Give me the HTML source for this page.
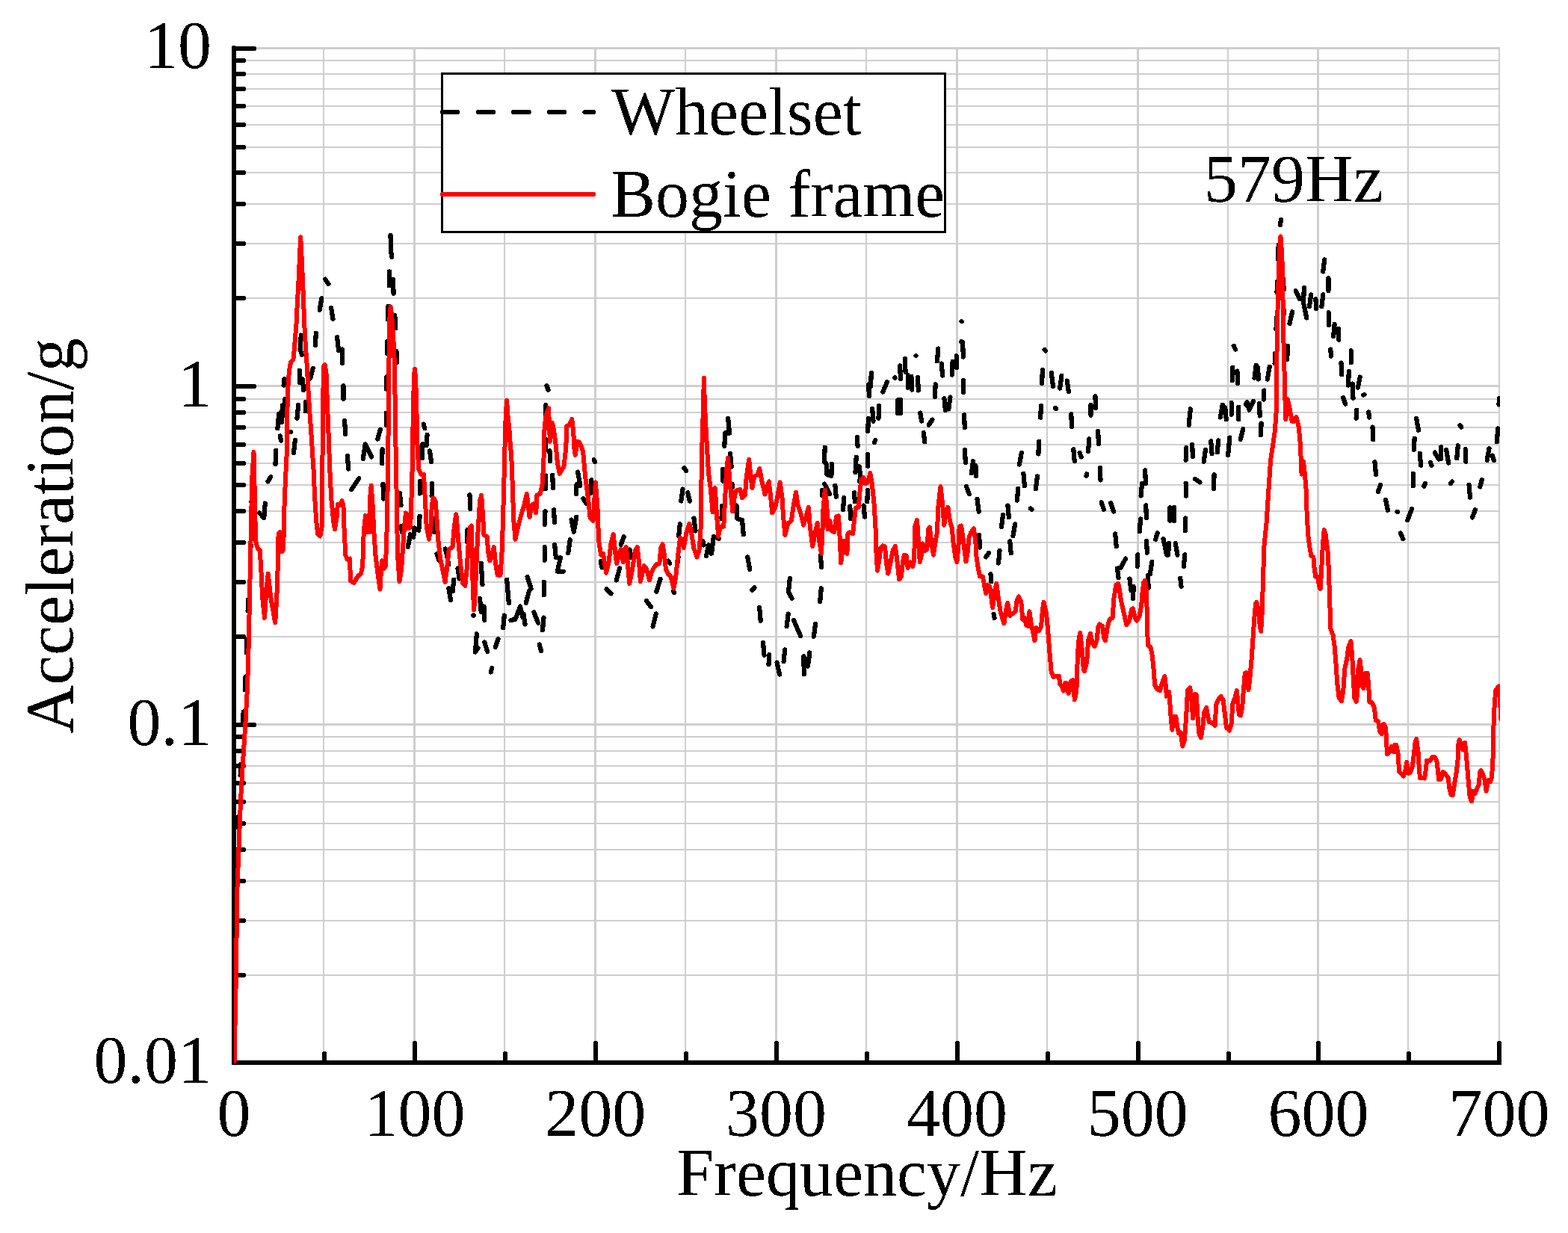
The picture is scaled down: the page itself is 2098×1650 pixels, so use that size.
<!DOCTYPE html>
<html lang="en"><head><meta charset="utf-8"><title>Acceleration spectrum</title>
<style>html,body{margin:0;padding:0;background:#fff}svg{display:block}</style></head>
<body>
<svg width="2098" height="1650" viewBox="0 0 2098 1650" font-family="'Liberation Serif', 'Times New Roman', serif" font-size="90">
<defs><filter id="t" x="-5%" y="-5%" width="110%" height="110%" color-interpolation-filters="sRGB"><feComponentTransfer><feFuncA type="discrete" tableValues="0 1"/></feComponentTransfer></filter>
<clipPath id="c"><rect x="313" y="59" width="1694" height="1364"/></clipPath></defs>
<rect width="2098" height="1650" fill="#fff"/>
<path d="M432 65h2V1422h-2zM553 65h3V1422h-3zM674 65h2V1422h-2zM795 65h3V1422h-3zM916 65h2V1422h-2zM1037 65h3V1422h-3zM1158 65h2V1422h-2zM1279 65h3V1422h-3zM1400 65h2V1422h-2zM1521 65h3V1422h-3zM1642 65h2V1422h-2zM1762 65h3V1422h-3zM1883 65h2V1422h-2zM2005 65h2V1422h-2zM313 515H2007v3H313zM313 398H2007v2H313zM313 325H2007v2H313zM313 272H2007v2H313zM313 230H2007v2H313zM313 196H2007v2H313zM313 166H2007v2H313zM313 141H2007v2H313zM313 118H2007v2H313zM313 98H2007v2H313zM313 80H2007v2H313zM313 968H2007v3H313zM313 851H2007v2H313zM313 778H2007v2H313zM313 725H2007v2H313zM313 683H2007v2H313zM313 648H2007v2H313zM313 619H2007v2H313zM313 594H2007v2H313zM313 571H2007v2H313zM313 551H2007v2H313zM313 533H2007v2H313zM313 1304H2007v2H313zM313 1231H2007v2H313zM313 1178H2007v2H313zM313 1136H2007v2H313zM313 1101H2007v2H313zM313 1072H2007v2H313zM313 1047H2007v2H313zM313 1024H2007v2H313zM313 1004H2007v2H313zM313 985H2007v2H313zM313 63H2007v3H313z" fill="#cecece" shape-rendering="crispEdges"/>
<g stroke="#000" stroke-width="6" fill="none" stroke-linecap="round" shape-rendering="crispEdges">
<path d="M313 517h27M313 399h13M313 326h13M313 273h13M313 231h13M313 197h13M313 167h13M313 142h13M313 119h13M313 99h13M313 81h13M313 970h27M313 852h13M313 779h13M313 726h13M313 684h13M313 649h13M313 620h13M313 595h13M313 572h13M313 552h13M313 534h13M313 1305h13M313 1232h13M313 1179h13M313 1137h13M313 1102h13M313 1073h13M313 1048h13M313 1025h13M313 1005h13M313 986h13M313 65h27M434 1422v-12M555 1422v-26M676 1422v-12M797 1422v-26M918 1422v-12M1039 1422v-26M1160 1422v-12M1281 1422v-26M1402 1422v-12M1523 1422v-26M1644 1422v-12M1764 1422v-26M1885 1422v-12M2006 1422v-26"/>
<path d="M313 64V1422"/>
<path d="M310 1422H2009" stroke-linecap="butt"/>
</g>
<g clip-path="url(#c)" fill="none" stroke-linejoin="round" stroke-linecap="round" shape-rendering="crispEdges">
<path d="M324.9 969.4L325.7 952.6M327.8 923.4L328.5 905.6M329.7 873.4L330.4 855.6M331.6 817.4L331.9 802.6M335.5 732.4L335.5 729.1M336.0 671.5L336.1 671.6M321.6 1037.4L322.2 1022.6M318.6 1107.4L319.2 1092.6M316.1 1187.4L316.5 1172.6M314.6 1267.4L314.9 1252.6M435.1 373.7L439.4 380.1M430.4 399.1L427.7 414.8M443.1 412.0L445.5 426.9M422.8 445.7L422.0 461.9M451.1 451.4L453.0 468.8L458.0 467.4L458.0 486.3M402.8 448.5L401.5 467.4L403.9 474.9M400.8 495.7L400.8 512.0M404.7 507.2L406.2 522.0M418.7 492.8L415.1 506.4M380.5 507.2L379.6 515.6M522.5 314.8L523.1 335.8L524.2 343.9M521.0 363.4L520.8 382.3L526.0 373.7L526.6 392.6M519.5 409.9L518.9 427.6M528.3 422.1L529.4 439.1M518.1 457.1L518.1 473.4M530.4 470.0L530.9 484.8M517.3 504.3L516.8 520.6M381.4 534.1L380.4 555.8L377.9 542.2L376.8 565.1L373.2 553.6L371.4 573.2M374.8 583.4L376.0 589.7M389.0 578.0L389.1 578.1M369.2 602.7L368.5 621.2M362.3 638.1L358.5 644.4M354.8 673.5L353.2 693.1L347.2 686.5M408.7 538.4L408.7 550.3M399.2 541.9L397.5 559.6M394.8 589.1L393.0 606.1M459.5 516.2L459.5 533.9M461.1 562.7L462.2 581.1M464.7 609.9L466.4 627.6M480.2 640.2L470.2 655.2M485.7 614.0L488.8 594.4L497.0 611.4M508.9 574.7L505.3 587.6M511.6 601.3L511.1 620.4M516.7 552.7L516.7 568.9M512.5 647.8L513.1 667.6M534.9 660.0L536.5 676.2M566.7 567.6L568.3 573.3M571.6 582.0L570.5 596.1M565.3 594.2L564.7 613.3M575.0 603.4L577.1 618.3M561.8 644.2L561.8 660.5M578.1 647.1L577.6 663.4M561.6 690.7L560.3 709.6L554.6 706.7L553.2 718.9L548.9 715.3L545.8 732.1M537.0 704.3L537.9 712.0M580.5 694.3L581.0 712.0M584.4 741.4L587.4 749.6M595.7 734.5L597.8 742.7L600.2 755.4M607.2 775.6L605.7 791.4M600.3 787.3L603.1 803.1M612.4 760.6L614.6 774.4M628.5 662.3L629.3 680.9M625.4 709.1L624.7 724.9M643.8 753.6L645.5 782.1M642.0 800.6L643.7 819.0L647.5 811.5L648.3 829.9M633.5 823.4L633.6 823.5M637.8 848.4L636.0 872.6L639.4 867.2M648.3 859.5L652.2 872.0M658.3 894.0L656.7 899.5M666.6 855.0L662.7 866.3M674.8 823.6L673.2 840.4M678.2 775.6L680.8 807.0M683.5 830.0L689.5 828.7L696.0 811.5L699.4 826.2M700.4 821.6L702.6 835.4M705.6 772.0L710.7 788.0M707.9 791.1L703.7 807.1M714.4 819.4L720.0 833.6M721.7 862.5L724.1 871.0M727.5 826.6L726.0 843.4M727.7 778.6L727.7 796.4M728.6 732.0L728.6 749.7M729.5 684.2L728.7 702.0M730.4 636.6L729.7 654.2M735.4 603.1L736.2 617.0M739.2 635.6L740.0 653.2M741.1 682.3L741.9 699.1M742.2 729.1L743.8 745.9M750.0 746.2L745.8 764.7L753.7 764.7M762.7 722.4L760.3 740.1M764.5 695.5L767.8 712.0L771.2 691.6M773.1 631.6L776.4 650.0L771.6 648.0L770.8 660.9M780.4 667.2L784.6 673.8M791.4 642.2L789.9 659.9M794.7 615.3L796.2 618.2M731.4 516.0L733.5 521.7M730.4 542.0L729.7 559.7M730.0 587.6L730.0 602.4M803.6 751.0L805.4 759.5M811.6 788.5L817.5 794.4M824.7 776.5L829.1 760.5M830.7 728.9L834.7 718.4M842.5 735.6L843.7 745.9M864.8 804.0L871.2 812.3M877.8 821.5L873.5 838.5M878.3 791.8L883.5 774.8M894.2 750.7L896.2 753.8M900.8 790.9L902.0 793.0M905.6 759.2L907.6 745.3M908.2 717.2L909.8 701.4M913.5 654.6L911.3 670.4M915.4 626.4L918.0 629.9M920.2 659.3L922.8 670.5M928.4 693.6L930.6 710.4M940.3 724.2L941.8 729.5M945.0 744.1L948.2 729.4L952.0 740.8L954.9 718.0L962.0 720.8M965.5 694.4L966.2 676.6M967.3 627.9L967.3 643.7M974.2 560.1L976.0 579.5L970.2 579.5L969.3 596.9M977.0 606.9L978.6 624.6M979.6 647.6L979.9 652.4M985.5 676.6L986.4 694.0L993.0 696.0L994.8 715.4M1000.2 745.3L1003.2 762.1M1009.4 786.5L1006.3 789.6M1016.2 813.1L1017.7 830.8M1021.0 859.9L1022.5 876.7M1029.3 876.1L1028.5 889.1M1039.5 886.5L1043.1 902.5M1050.2 869.4L1048.6 885.2M1054.7 821.6L1052.6 838.4M1056.8 774.0L1055.0 792.4L1059.6 800.6M1062.0 830.1L1071.2 851.1M1091.1 835.1L1088.8 851.8M1083.4 873.3L1080.9 891.7L1075.2 878.3L1075.9 902.4M1098.8 787.3L1097.2 805.1M1098.1 743.4L1098.9 759.2M1100.0 655.6L1100.0 663.4M1103.1 647.7L1110.2 661.2M1117.4 649.9L1118.8 664.8M1129.4 666.1L1127.9 681.9M1143.1 659.4L1143.8 671.4M1137.3 677.6L1138.1 694.3M1146.9 585.0L1147.6 597.0M1161.1 607.9L1161.1 623.7M1161.0 655.6L1160.3 671.4M1155.6 676.6L1157.0 691.5M1161.9 560.2L1161.2 576.9M1167.1 546.8L1168.5 563.6M1176.3 543.0L1175.5 559.7M1165.8 499.1L1165.0 516.8M1162.2 514.3L1162.9 530.1M1186.8 511.3L1181.2 524.6M1197.1 505.2L1197.7 505.9M1204.2 489.5L1204.9 507.2M1210.8 480.0L1211.6 497.7M1214.6 501.9L1214.6 518.7M1219.4 503.8L1220.2 521.6M1228.0 504.8L1228.8 522.5M1225.5 475.9L1225.6 476.0M1201.2 535.3L1201.2 553.1M1205.0 535.3L1205.0 553.1M1231.2 552.5L1233.2 563.6M1235.8 579.2L1237.2 591.3M1247.5 561.6L1242.7 568.8M1251.7 514.3L1250.9 531.1M1255.4 466.6L1253.9 483.4M1259.7 486.6L1261.1 502.5M1263.5 533.4L1264.9 549.2M1271.5 531.5L1269.3 547.4M1274.6 483.8L1273.9 501.5M1279.6 476.2L1280.3 492.0M1286.3 457.0L1288.1 458.3L1288.9 477.6M1286.6 430.1L1286.7 430.2M1289.0 508.6L1289.0 525.4M1290.1 555.4L1290.8 572.2M1291.0 602.2L1291.8 618.9M1302.0 617.4L1299.9 633.3M1305.4 623.2L1306.1 637.1M1292.8 650.7L1296.7 661.1M1307.5 668.0L1309.7 684.8M1366.8 605.9L1363.9 621.8M1369.4 633.7L1370.9 650.4M1362.3 653.7L1360.9 669.5M1348.4 676.6L1349.9 692.4M1342.1 689.0L1340.0 704.9M1378.8 680.5L1380.6 681.9M1388.0 637.5L1385.8 654.3M1390.1 590.7L1389.4 607.5M1393.0 543.0L1392.2 558.8M1394.9 495.2L1394.1 513.0M1397.6 467.9L1399.1 469.6M1406.8 499.0L1409.0 516.8M1420.4 502.9L1418.2 519.7M1427.8 509.5L1429.9 524.4M1412.1 546.0L1413.2 547.1M1433.3 554.4L1434.0 571.2M1436.3 601.2L1437.7 617.0M1444.6 605.8L1446.6 611.4M1310.1 715.8L1310.9 732.5M1322.9 740.1L1319.2 745.4M1325.5 768.3L1326.1 778.4M1329.6 821.7L1330.6 827.1M1337.5 736.8L1336.0 753.5M1358.2 701.4L1355.4 717.3M1351.3 724.4L1352.7 740.2M1465.4 530.2L1466.1 546.0M1459.5 541.7L1459.5 555.6M1469.2 577.0L1469.9 593.8M1457.4 587.5L1456.0 604.3M1454.1 634.2L1453.5 636.8M1472.0 625.7L1472.5 642.5M1473.7 672.3L1476.9 681.7M1486.2 673.3L1490.2 684.6M1492.2 714.5L1493.7 731.3M1506.1 747.6L1499.6 759.6L1494.9 760.6L1496.5 773.3M1511.4 774.6L1513.6 790.5M1516.7 785.1L1516.0 800.9M1522.4 742.2L1521.7 758.0M1526.1 694.4L1524.7 711.2M1528.1 646.7L1526.6 663.5M1532.2 629.5L1532.9 647.2M1533.2 676.3L1533.9 693.1M1534.1 724.0L1534.8 739.8M1541.3 751.7L1538.8 768.2L1535.9 770.1L1536.7 786.6M1548.6 713.4L1546.2 721.8M1556.5 721.1L1561.1 742.8M1564.3 726.9L1562.9 742.7M1572.7 726.9L1575.5 742.7M1565.5 679.2L1565.5 696.9M1571.2 679.2L1571.2 696.9M1585.3 742.2L1583.9 758.0M1579.2 773.7L1580.5 784.7M1586.4 693.5L1585.7 710.2M1586.6 646.7L1587.0 663.5M1587.4 599.0L1586.6 615.7M1592.9 547.4L1590.6 569.0M1595.2 595.2L1595.9 611.0M1599.1 640.9L1605.4 645.4M1612.9 601.8L1610.7 617.7M1620.2 590.4L1621.6 607.1M1630.2 589.4L1628.8 605.2M1624.6 635.2L1623.9 653.9M1635.7 541.7L1632.8 558.5M1639.3 545.5L1640.7 561.3M1647.6 538.8L1647.6 554.6M1645.4 585.6L1643.1 609.1M1657.2 544.6L1657.2 561.3M1663.2 574.1L1659.7 588.1M1666.9 541.5L1668.6 538.1L1671.5 548.6L1677.1 536.7M1685.0 539.8L1685.7 556.5M1687.6 566.5L1686.9 582.3M1691.4 522.6L1690.7 534.6M1650.7 462.8L1653.1 467.7M1649.4 491.7L1648.7 509.4M1655.4 496.5L1656.1 513.2M1680.7 488.8L1678.5 505.6M1683.1 491.7L1683.8 507.5M1698.7 490.7L1695.8 507.6M1706.3 472.6L1705.6 486.5M1708.2 424.9L1707.5 440.7M1709.2 377.2L1708.5 391.1M1710.7 327.5L1710.1 347.1M1714.0 294.1L1712.9 301.3M1717.0 373.3L1717.6 387.2M1717.9 415.3L1717.9 419.7M1722.9 463.1L1722.2 480.8M1729.1 417.2L1725.5 433.1M1733.7 389.3L1739.1 399.9M1744.9 384.8L1744.0 405.1L1748.3 425.5M1754.2 394.3L1752.0 410.2M1760.4 400.1L1761.1 413.0M1770.4 394.3L1768.3 410.2M1772.3 347.5L1770.2 363.4M1777.4 372.4L1777.4 389.1M1777.6 418.2L1778.3 435.0M1785.6 434.0L1784.2 449.9M1790.7 439.8L1791.4 454.6M1780.3 467.5L1780.9 476.6M1807.8 469.4L1807.8 485.2M1794.5 485.6L1795.3 501.4M1804.8 497.1L1804.0 515.5L1809.7 513.6L1810.5 532.9M1819.7 504.6L1816.9 518.6M1824.4 528.6L1825.5 528.1M1797.2 532.2L1800.2 540.7M1815.3 548.6L1814.6 559.6M1831.1 551.4L1832.2 558.7M1836.5 571.5L1837.3 588.3M1839.5 618.3L1841.0 635.1M1847.1 648.7L1843.9 658.1M1854.1 668.9L1856.9 682.8M1869.5 684.9L1870.1 685.0M1889.0 681.1L1883.2 696.3M1873.8 713.5L1877.3 721.2M1890.8 633.6L1890.8 650.3M1892.6 586.8L1891.9 601.7M1895.1 560.0L1898.0 575.9M1899.7 606.8L1901.1 622.7M1913.9 619.0L1915.6 622.9M1907.0 646.7L1905.3 650.6M1919.8 605.6L1924.9 614.4M1928.1 598.3L1928.1 614.1M1935.2 602.0L1938.1 619.8M1950.8 596.3L1949.3 613.1M1960.6 601.1L1961.4 617.9M1953.4 569.1L1955.2 571.6M1942.8 644.6L1941.0 647.0M1965.5 648.8L1967.0 665.6M1982.8 642.1L1980.3 651.4M1973.9 682.1L1970.0 692.5M1992.5 600.1L1989.6 616.0M1996.7 609.6L1998.8 616.1M2004.2 573.4L2002.8 591.2M2005.9 533.3L2005.5 541.5M1103.7 598.8L1102.9 618.1L1105.7 621.0L1106.2 634.8L1112.4 637.2L1112.8 620.7M1145.7 611.7L1144.5 632.4L1149.9 624.3L1151.0 636.2L1150.4 644.1M1171.1 589.1L1170.0 591.9" stroke="#000" stroke-width="6.2"/>
<path d="M313.5 1421.0L316.0 1300.0L317.2 1195.0L319.0 1148.0L322.0 1071.0L325.0 1020.0L328.3 970.0L331.0 920.0L331.5 905.0L332.8 857.3L334.4 780.9L335.9 704.6L337.4 637.7L339.5 604.9L340.9 666.4L342.0 723.7L344.9 734.2L347.7 736.1L349.3 761.8L351.2 800.0L354.0 826.8L356.3 790.5L358.8 767.6L361.1 790.5L364.0 809.6L368.2 833.4L370.3 800.0L371.6 761.8L372.6 714.1L374.8 712.2L377.3 738.0L379.2 735.1L380.2 685.5L381.7 647.3L383.6 609.1L384.0 561.1L385.3 519.1L386.9 496.2L389.0 484.7L392.4 480.9L393.4 471.4L394.9 454.2L396.5 433.2L397.9 404.6L399.4 378.8L400.8 347.3L402.2 317.3L403.7 347.3L405.1 378.8L406.2 404.6L407.2 433.2L408.8 461.8L410.8 490.3L412.3 519.1L413.8 543.9L415.5 566.8L417.4 595.5L419.5 628.2L421.2 666.4L423.2 696.9L425.1 714.1L428.3 717.5L430.8 704.6L431.4 637.7L431.7 566.8L432.5 519.1L433.3 490.5L434.6 487.8L436.5 500.0L437.9 538.2L439.4 576.4L441.3 628.2L443.2 666.4L446.1 696.9L448.0 708.4L450.5 693.1L451.8 675.0L455.0 675.9L457.5 670.2L459.4 675.9L460.4 704.6L462.3 742.7L464.6 748.5L468.0 747.5L469.0 777.1L473.7 780.0L478.5 771.4L482.9 767.6L485.2 758.0L486.7 712.2L489.0 690.2L491.5 712.2L493.8 712.2L495.1 666.4L496.7 649.8L498.6 675.9L500.1 708.4L502.4 742.7L505.3 765.7L508.5 788.6L510.0 761.8L511.2 750.4L513.8 760.9L515.8 758.0L517.3 723.7L518.4 666.4L519.2 609.1L519.6 576.4L520.1 519.1L520.7 461.8L521.5 423.7L522.6 410.5L524.3 423.7L526.3 452.3L527.6 480.9L528.4 519.1L529.1 576.4L530.1 628.2L531.0 685.5L532.0 742.7L534.5 778.1L537.1 761.8L539.0 733.2L541.0 704.6L542.9 686.4L544.8 689.3L546.7 707.4L549.2 704.6L550.5 666.4L551.6 628.2L552.4 576.4L553.2 538.2L553.9 503.8L555.1 493.5L556.2 509.6L557.4 547.8L558.1 585.9L559.1 609.1L560.4 628.2L563.5 634.9L566.9 634.9L568.8 666.4L570.7 704.6L574.0 721.7L576.5 704.6L577.8 675.9L579.7 666.4L582.6 670.2L584.5 695.0L586.4 723.7L589.3 748.5L592.1 761.8L595.6 779.0L597.9 761.8L600.7 735.1L605.5 732.2L607.8 704.6L610.3 688.3L612.2 708.4L614.1 733.2L616.9 761.8L619.2 780.9L622.3 783.8L624.6 761.8L626.9 723.7L628.8 706.5L630.7 703.6L631.8 742.7L632.6 780.9L634.1 816.3L636.0 790.5L637.9 742.7L639.9 704.6L642.1 670.2L644.2 662.6L646.0 689.3L647.5 716.0L651.7 718.3L653.2 738.9L655.5 750.4L658.6 740.8L660.9 732.2L662.8 752.3L665.6 769.5L669.5 769.5L671.4 742.7L672.7 704.6L673.8 666.4L674.8 628.2L675.8 585.9L676.7 557.3L678.0 535.5L679.6 557.3L681.5 576.4L682.8 595.5L684.2 609.1L685.7 647.3L687.2 695.0L689.5 721.7L692.4 708.4L696.2 693.1L700.0 679.7L700.0 681.6L704.8 660.6L708.6 692.1L711.5 675.9L714.3 674.0L717.2 686.4L718.5 662.6L722.9 660.6L725.8 647.3L727.7 609.1L728.6 571.8L730.5 556.6L732.5 550.8L734.0 546.1L735.1 571.8L735.9 590.9L737.0 575.7L738.8 565.7L741.1 575.7L743.5 593.8L745.8 618.6L748.7 633.9L754.4 624.4L757.3 599.5L758.2 569.9L761.5 569.0L765.3 561.0L767.2 577.6L768.4 600.5L769.7 609.1L772.6 590.9L775.4 591.9L778.3 598.6L780.2 605.3L783.1 637.7L786.9 666.4L789.7 693.1L793.6 696.9L795.5 666.4L796.8 645.4L799.3 675.9L801.2 723.7L804.1 742.7L806.9 740.8L811.1 766.6L814.6 752.3L817.4 727.5L820.7 715.1L823.2 738.9L825.1 754.2L828.9 738.9L830.8 735.1L833.7 752.3L835.9 735.1L837.9 732.2L842.2 780.9L846.1 761.8L849.9 737.0L852.7 732.2L855.0 752.3L856.9 778.1L859.4 767.6L861.9 757.1L865.2 761.8L869.0 776.2L871.8 765.7L874.7 759.9L878.5 755.2L882.3 754.2L884.2 733.2L886.5 728.4L889.0 742.7L890.9 761.8L893.8 767.6L897.6 771.4L901.4 787.6L904.3 771.4L907.2 742.7L910.0 719.8L913.8 723.7L914.8 733.2L918.6 712.2L922.4 700.7L925.3 714.1L928.2 733.2L932.6 745.6L935.8 735.1L937.7 704.6L938.7 628.2L939.0 606.2L940.1 575.3L941.0 541.3L941.9 505.8L942.9 541.3L944.7 575.3L946.3 604.3L948.0 632.6L951.1 656.8L953.6 685.5L956.8 653.0L958.7 685.5L961.2 717.9L963.5 704.6L968.3 704.6L970.2 666.4L972.1 628.2L974.0 612.9L976.8 647.3L980.3 684.5L982.6 666.4L984.5 656.8L990.2 654.9L993.1 666.4L996.9 662.6L998.8 637.7L1002.2 614.8L1004.5 637.7L1006.4 653.0L1009.3 637.7L1013.1 635.8L1016.4 627.2L1018.9 641.6L1023.6 661.6L1026.5 651.1L1028.8 644.4L1031.3 666.4L1033.2 686.4L1037.0 679.7L1039.9 666.4L1043.7 645.4L1046.5 666.4L1048.4 695.0L1050.4 716.0L1054.2 700.7L1058.9 696.9L1061.8 675.9L1065.1 658.7L1067.5 675.9L1071.4 687.4L1075.2 702.6L1079.0 689.3L1081.9 678.8L1083.8 704.6L1087.2 731.3L1090.5 714.1L1093.7 699.8L1096.2 723.7L1099.0 740.8L1100.4 712.2L1101.5 681.6L1103.8 655.9L1106.3 675.9L1107.6 708.4L1110.5 696.9L1113.4 711.2L1116.2 712.2L1119.1 691.2L1122.0 690.2L1123.9 723.7L1125.2 753.2L1127.7 733.2L1129.0 723.7L1131.5 738.9L1133.4 740.8L1134.4 714.1L1137.2 712.2L1141.1 714.1L1143.0 696.9L1144.9 679.7L1148.7 678.8L1150.6 656.8L1152.5 641.6L1155.4 639.3L1158.2 647.3L1161.1 645.4L1164.3 633.0L1166.8 647.3L1169.7 675.9L1171.6 708.4L1172.6 742.7L1174.1 763.7L1176.4 748.5L1178.3 733.2L1181.1 730.3L1184.0 731.3L1185.9 752.3L1188.2 767.6L1191.6 752.3L1194.5 737.0L1197.8 730.9L1200.2 748.5L1203.1 775.2L1206.0 771.4L1207.9 752.3L1209.8 742.7L1212.6 743.7L1214.6 759.9L1218.4 752.3L1221.2 758.0L1223.2 750.4L1224.1 704.6L1227.0 696.0L1228.9 723.7L1230.8 752.3L1233.7 738.9L1234.6 727.5L1237.5 737.0L1240.3 735.1L1242.2 708.4L1243.8 705.5L1246.1 723.7L1248.9 742.7L1251.8 723.7L1253.7 714.1L1255.6 675.9L1258.5 651.1L1261.3 675.9L1263.2 702.6L1266.1 685.5L1268.4 678.8L1270.9 696.9L1273.7 706.5L1275.7 727.5L1278.5 746.6L1280.4 752.3L1282.3 733.2L1283.7 704.6L1286.2 703.6L1289.0 723.7L1292.5 751.3L1294.7 738.9L1296.7 717.9L1299.5 712.2L1302.8 707.4L1305.3 723.7L1306.2 742.7L1308.1 756.1L1311.0 771.4L1314.8 771.4L1316.7 780.9L1319.2 794.3L1321.5 782.8L1324.3 784.7L1328.2 813.4L1331.0 790.5L1333.3 780.9L1335.8 800.0L1338.7 819.1L1343.4 834.4L1346.3 815.3L1348.2 806.7L1351.1 823.9L1354.9 821.0L1358.7 818.2L1360.6 803.8L1363.1 798.5L1366.3 805.8L1368.3 828.7L1371.1 826.8L1373.0 836.3L1375.9 838.2L1377.4 818.2L1379.7 834.4L1382.6 847.8L1384.5 857.3L1386.4 840.1L1390.2 843.9L1393.1 838.2L1395.0 815.3L1396.5 805.8L1399.8 819.1L1401.7 838.2L1403.2 857.3L1404.7 876.4L1406.6 898.7L1409.4 905.9L1413.7 904.5L1417.0 904.5L1418.2 915.9L1420.9 918.5L1423.0 924.5L1425.3 913.8L1428.0 914.5L1429.6 928.1L1431.6 923.1L1433.3 910.9L1435.9 910.2L1437.8 936.4L1439.5 928.8L1440.9 915.9L1441.8 876.4L1443.7 853.5L1445.2 846.8L1447.5 866.8L1449.8 895.5L1450.9 898.4L1454.2 885.9L1456.1 857.3L1458.9 847.8L1461.8 861.1L1464.7 864.9L1467.5 857.3L1469.5 838.2L1471.4 835.3L1475.2 838.2L1477.1 853.5L1479.0 857.3L1481.9 838.2L1484.7 828.7L1488.5 826.8L1490.5 800.0L1493.3 782.8L1496.2 780.9L1498.1 790.5L1500.0 803.8L1503.5 819.1L1507.3 836.3L1511.1 830.5L1514.0 815.3L1515.9 814.3L1518.7 826.7L1521.0 830.5L1524.5 824.8L1527.3 809.5L1528.7 791.1L1530.2 779.7L1532.1 776.8L1533.6 787.3L1534.4 806.4L1535.0 838.2L1535.9 863.0L1539.7 866.8L1541.6 876.4L1543.6 895.5L1545.1 916.5L1548.3 922.2L1552.1 924.1L1554.6 914.6L1558.4 905.0L1560.4 924.1L1560.7 931.7L1564.2 926.0L1565.5 943.2L1566.8 962.3L1568.4 976.6L1569.9 958.5L1573.2 958.5L1575.1 971.8L1577.0 981.4L1579.8 980.4L1582.3 998.6L1584.6 990.9L1585.9 977.6L1587.5 952.7L1589.0 924.1L1592.2 920.3L1594.2 933.7L1596.1 961.3L1597.0 943.2L1598.9 928.9L1600.8 929.8L1602.7 962.3L1604.3 981.4L1606.9 987.1L1609.4 971.8L1611.3 952.7L1614.2 947.0L1616.1 958.5L1618.0 966.1L1621.8 967.1L1625.7 970.9L1627.2 943.2L1630.4 935.6L1633.7 931.7L1636.7 937.5L1639.0 956.6L1640.9 973.7L1645.1 977.6L1647.6 968.0L1649.5 941.3L1652.4 933.7L1654.9 924.1L1656.6 943.2L1658.1 956.6L1660.0 957.5L1662.3 945.1L1663.8 924.1L1665.8 901.2L1667.7 900.2L1669.6 914.6L1670.5 923.2L1672.4 906.9L1674.3 885.9L1676.3 857.3L1678.2 828.6L1680.1 807.6L1681.4 805.7L1683.9 819.1L1685.8 838.2L1687.1 844.9L1688.3 828.6L1689.0 809.5L1690.2 768.2L1691.5 730.0L1694.4 701.4L1696.3 672.7L1698.2 644.1L1700.1 615.5L1703.0 596.4L1705.8 577.3L1707.8 548.6L1708.7 450.9L1710.0 393.7L1711.2 355.5L1712.3 332.6L1713.5 316.5L1714.6 332.6L1715.8 355.5L1716.7 412.7L1717.3 450.9L1718.3 489.1L1719.2 523.5L1719.6 539.1L1720.4 561.1L1723.0 534.3L1725.9 548.6L1728.8 563.9L1731.6 563.9L1734.5 558.2L1737.4 569.6L1739.3 586.8L1740.6 611.6L1741.6 634.6L1744.0 617.4L1745.9 634.6L1747.5 653.7L1748.8 691.8L1750.7 720.5L1752.6 733.8L1754.5 744.3L1757.4 745.3L1758.4 758.7L1760.3 772.0L1763.1 772.0L1765.0 783.5L1766.6 788.3L1767.9 768.2L1769.8 730.0L1771.7 709.0L1773.6 714.7L1775.5 730.0L1776.9 741.5L1778.0 768.2L1779.1 800.0L1779.7 819.1L1780.5 842.0L1783.5 849.6L1785.4 863.0L1787.4 885.9L1789.3 914.6L1791.6 933.7L1795.0 938.4L1797.3 924.1L1799.2 895.5L1802.1 882.1L1804.0 866.8L1807.4 858.2L1809.1 876.4L1810.6 905.0L1812.2 933.7L1814.8 939.0L1816.4 924.1L1817.3 895.5L1819.6 883.1L1821.7 901.2L1823.1 918.4L1824.4 921.2L1826.3 901.2L1829.7 900.8L1831.3 918.4L1832.2 939.4L1835.9 940.3L1838.9 947.0L1840.8 964.2L1844.1 965.2L1846.0 978.5L1848.8 982.3L1849.8 969.9L1851.7 969.0L1854.2 973.7L1854.9 990.9L1856.1 1009.1L1859.3 1006.2L1861.8 998.6L1865.1 1006.2L1866.4 996.7L1868.3 996.7L1870.8 1010.0L1872.1 1032.9L1875.6 1035.8L1877.9 1038.7L1880.9 1029.1L1882.2 1019.6L1884.2 1034.8L1887.0 1033.9L1889.9 1025.3L1891.8 1010.0L1893.7 992.8L1895.2 989.0L1897.5 1006.2L1898.9 1029.1L1900.0 1041.5L1903.3 1040.6L1906.1 1041.5L1908.0 1029.1L1909.0 1017.7L1913.8 1017.7L1916.6 1012.9L1919.5 1012.9L1922.3 1017.7L1923.7 1029.1L1925.2 1043.4L1928.1 1042.5L1930.6 1032.9L1933.8 1035.8L1937.6 1040.6L1939.5 1055.8L1941.4 1063.5L1943.7 1064.4L1946.2 1048.2L1948.5 1034.8L1950.4 1019.6L1951.6 992.8L1952.9 990.0L1955.4 998.6L1957.3 1003.3L1960.0 993.8L1961.9 1010.0L1963.4 1029.1L1964.9 1048.2L1966.8 1067.3L1969.1 1072.1L1971.4 1058.7L1973.9 1061.6L1976.8 1053.9L1978.7 1050.1L1980.2 1032.9L1981.5 1031.0L1984.4 1036.8L1986.7 1044.4L1988.6 1058.7L1991.1 1044.4L1993.9 1046.3L1995.9 1040.6L1997.4 1019.6L1998.1 990.9L1998.7 962.3L1999.7 943.2L2001.2 924.1L2004.4 919.3L2006.0 918.4L2008.3 962.3" stroke="#ff0000" stroke-width="6.0"/>
</g>
<g shape-rendering="crispEdges" fill="none">
<rect x="591.5" y="98.5" width="673" height="212" fill="#fff" stroke="#000" stroke-width="3"/>
<path d="M592 150H794" stroke="#000" stroke-width="6" stroke-linecap="round" stroke-dasharray="20.5 27.1"/>
<path d="M592 260H794" stroke="#ff0000" stroke-width="6" stroke-linecap="round"/>
</g>
<g filter="url(#t)" fill="#000">
<text x="818" y="180">Wheelset</text>
<text x="817" y="290">Bogie frame</text>
<text x="1611" y="269.5">579Hz</text>
<text x="313.0" y="1519.5" text-anchor="middle">0</text>
<text x="554.9" y="1519.5" text-anchor="middle">100</text>
<text x="796.7" y="1519.5" text-anchor="middle">200</text>
<text x="1038.6" y="1519.5" text-anchor="middle">300</text>
<text x="1280.4" y="1519.5" text-anchor="middle">400</text>
<text x="1522.3" y="1519.5" text-anchor="middle">500</text>
<text x="1764.1" y="1519.5" text-anchor="middle">600</text>
<text x="2006.0" y="1519.5" text-anchor="middle">700</text>
<text x="283" y="91" text-anchor="end">10</text>
<text x="283" y="544" text-anchor="end">1</text>
<text x="283" y="997" text-anchor="end">0.1</text>
<text x="283" y="1448.5" text-anchor="end">0.01</text>
<text x="1160" y="1599.5" text-anchor="middle">Frequency/Hz</text>
<text transform="translate(97.5 717) rotate(-90)" text-anchor="middle">Acceleration/g</text>
</g>
</svg>
</body></html>
